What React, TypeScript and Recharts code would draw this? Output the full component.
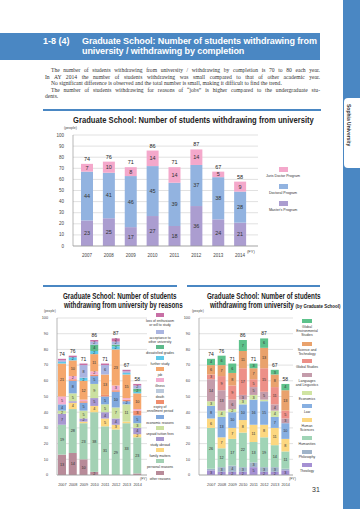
import React from "react";
import { Bar, BarChart, CartesianGrid, LabelList, XAxis, YAxis } from "recharts";

const years = ["2007", "2008", "2009", "2010", "2011", "2012", "2013", "2014"];
const yTicks = [0, 10, 20, 30, 40, 50, 60, 70, 80, 90, 100];

// top chart: by program
const masters = [23, 25, 17, 27, 18, 36, 24, 21];
const doctoral = [44, 41, 46, 45, 39, 37, 38, 28];
const jurisDoctor = [7, 10, 8, 14, 14, 14, 5, 9];

// bottom left: by reasons (stack order bottom -> top)
const otherReasons = [13, 14, 10, 2, 0, 0, 0, 1];
const personalReasons = [19, 28, 23, 38, 31, 29, 33, 23];
const familyMatters = [0, 4, 1, 4, 5, 3, 1, 2];
const studyAbroad = [7, 1, 2, 5, 4, 4, 0, 4];
const unpaidFees = [2, 5, 5, 9, 5, 7, 11, 3];
const economicReasons = [4, 8, 5, 5, 5, 10, 2, 5];
const expiryPeriod = [0, 1, 1, 1, 1, 1, 1, 3];
const death = [0, 0, 0, 0, 0, 0, 0, 0];
const illness = [5, 2, 1, 2, 0, 3, 1, 1];
const job = [21, 10, 12, 11, 13, 23, 15, 10];
const furtherStudy = [1, 2, 2, 2, 0, 2, 1, 1];
const dissatisfiedGrades = [0, 0, 0, 4, 0, 1, 0, 2];
const acceptanceOther = [1, 0, 8, 2, 6, 2, 1, 2];
const lossOfEnthusiasm = [1, 1, 1, 1, 1, 2, 1, 1];

// bottom right: by graduate school (bottom -> top)
const theology = [3, 2, 2, 2, 5, 2, 2, 3];
const philosophy = [1, 3, 4, 3, 3, 3, 3, 1];
const humanities = [26, 12, 17, 22, 13, 19, 14, 11];
const humanSciences = [6, 7, 7, 8, 11, 8, 11, 8];
const law = [8, 13, 10, 10, 16, 15, 7, 10];
const economics = [3, 4, 2, 3, 3, 1, 4, 0];
const languages = [14, 13, 6, 3, 5, 5, 4, 3];
const globalStudies = [3, 9, 9, 17, 5, 15, 11, 5];
const sciTech = [6, 7, 8, 11, 7, 13, 8, 13];
const globalEnv = [4, 6, 6, 7, 3, 6, 3, 4];

type Series = { key: string; values: number[]; color: string; label: string[] };

const programSeries: Series[] = [
  { key: "masters", values: masters, color: "#ab9dd0", label: ["Master's Program"] },
  { key: "doctoral", values: doctoral, color: "#92b3e0", label: ["Doctoral Program"] },
  { key: "juris", values: jurisDoctor, color: "#f4a8cb", label: ["Juris Doctor Program"] },
];

const reasonSeries: Series[] = [
  { key: "other", values: otherReasons, color: "#b88b99", label: ["other reasons"] },
  { key: "personal", values: personalReasons, color: "#a3d1b4", label: ["personal reasons"] },
  { key: "family", values: familyMatters, color: "#fcd780", label: ["family matters"] },
  { key: "abroad", values: studyAbroad, color: "#a898d1", label: ["study abroad"] },
  { key: "unpaid", values: unpaidFees, color: "#cbe0a0", label: ["unpaid tuition fees"] },
  { key: "economic", values: economicReasons, color: "#80a8dd", label: ["economic reasons"] },
  { key: "expiry", values: expiryPeriod, color: "#f08e6e", label: ["expiry of", "enrollment period"] },
  { key: "death", values: death, color: "#bccadc", label: ["death"] },
  { key: "illness", values: illness, color: "#f3acd0", label: ["illness"] },
  { key: "job", values: job, color: "#f5a76c", label: ["job"] },
  { key: "further", values: furtherStudy, color: "#5fc9e9", label: ["further study"] },
  { key: "grades", values: dissatisfiedGrades, color: "#5dba8b", label: ["dissatisfied grades"] },
  { key: "accept", values: acceptanceOther, color: "#aab5e1", label: ["acceptance to", "other university"] },
  { key: "loss", values: lossOfEnthusiasm, color: "#c86fa5", label: ["loss of enthusiasm", "or will to study"] },
];

const schoolSeries: Series[] = [
  { key: "theology", values: theology, color: "#a590d3", label: ["Theology"] },
  { key: "philosophy", values: philosophy, color: "#a0b4c9", label: ["Philosophy"] },
  { key: "humanities", values: humanities, color: "#a0d4b6", label: ["Humanities"] },
  { key: "humanSci", values: humanSciences, color: "#fcd780", label: ["Human", "Sciences"] },
  { key: "law", values: law, color: "#87afe1", label: ["Law"] },
  { key: "economics", values: economics, color: "#d0e4a2", label: ["Economics"] },
  { key: "languages", values: languages, color: "#c49cab", label: ["Languages", "and Linguistics"] },
  { key: "globalStudies", values: globalStudies, color: "#ed9088", label: ["Global Studies"] },
  { key: "sciTech", values: sciTech, color: "#e9a26c", label: ["Science and", "Technology"] },
  { key: "globalEnv", values: globalEnv, color: "#5dc28b", label: ["Global", "Environmental", "Studies"] },
];

const buildRows = (series: Series[]) =>
  years.map((year, i) => {
    const row: Record<string, number | string> = { year };
    let total = 0;
    series.forEach((s) => {
      row[s.key] = s.values[i];
      total += s.values[i];
    });
    row.total = total;
    return row;
  });

const box = (p: any) => {
  const vb = p.viewBox || p;
  return { x: Number(vb.x ?? p.x), y: Number(vb.y ?? p.y), w: Number(vb.width ?? p.width), h: Number(vb.height ?? p.height) };
};

const segLabel = (min: number, fs: number) => (p: any) => {
  const v = Number(p.value);
  if (!v || v < min) return null;
  const { x, y, w, h } = box(p);
  return (
    <text x={x + w / 2} y={y + h / 2} dy={fs * 0.36} textAnchor="middle" fontSize={fs} fill="#333" fontFamily="Liberation Sans, Arial">
      {v}
    </text>
  );
};

const totalLabel = (rows: any[], fs: number) => (p: any) => {
  const { x, y, w } = box(p);
  const t = rows[p.index]?.total ?? p.value;
  return (
    <text x={x + w / 2} y={y - 3} textAnchor="middle" fontSize={fs} fill="#222" fontFamily="Liberation Sans, Arial">
      {t}
    </text>
  );
};

type ChartProps = {
  series: Series[];
  left: number;
  top: number;
  width: number;
  height: number;
  margin: { top: number; right: number; left: number; bottom: number };
  yWidth: number;
  xHeight: number;
  pad: { left: number; right: number };
  barSize: number;
  tickFs: number;
  segFs: number;
  segMin: number;
  totFs: number;
};

function StackChart(c: ChartProps) {
  const rows = buildRows(c.series);
  const last = c.series.length - 1;
  return (
    <div style={{ position: "absolute", left: c.left, top: c.top }}>
      <BarChart width={c.width} height={c.height} data={rows} margin={c.margin}>
        <CartesianGrid vertical={false} stroke="#d4d4d4" strokeWidth={0.7} />
        <XAxis
          dataKey="year"
          height={c.xHeight}
          padding={c.pad}
          tickLine={false}
          axisLine={{ stroke: "#999", strokeWidth: 0.7 }}
          tick={{ fontSize: c.tickFs, fill: "#444", fontFamily: "Liberation Sans, Arial" }}
          tickMargin={2}
          interval={0}
        />
        <YAxis
          width={c.yWidth}
          domain={[0, 100]}
          ticks={yTicks}
          interval={0}
          tickLine={false}
          axisLine={{ stroke: "#999", strokeWidth: 0.7 }}
          tick={{ fontSize: c.tickFs, fill: "#444", fontFamily: "Liberation Sans, Arial" }}
          tickMargin={3}
        />
        {c.series.map((s, i) => (
          <Bar key={s.key} dataKey={s.key} stackId="a" fill={s.color} barSize={c.barSize} isAnimationActive={false}>
            <LabelList dataKey={s.key} content={segLabel(c.segMin, c.segFs)} />
            {i === last ? <LabelList dataKey="total" content={totalLabel(rows, c.totFs)} /> : null}
          </Bar>
        ))}
      </BarChart>
    </div>
  );
}

type LegendItem = { s: Series; swatchY: number; labelY: number };

function Legend({ items, cx, sw, sh, fs, lh }: { items: LegendItem[]; cx: number; sw: number; sh: number; fs: number; lh: number }) {
  return (
    <>
      {items.map(({ s, swatchY, labelY }) => (
        <React.Fragment key={s.key}>
          <div style={{ position: "absolute", left: cx - sw / 2, top: swatchY, width: sw, height: sh, background: s.color }} />
          <div
            style={{
              position: "absolute",
              left: cx - 30,
              width: 60,
              top: labelY,
              textAlign: "center",
              fontSize: fs,
              lineHeight: `${lh}px`,
              color: "#333",
              fontFamily: "Liberation Sans, Arial",
              whiteSpace: "nowrap",
            }}
          >
            {s.label.map((l) => (
              <div key={l}>{l}</div>
            ))}
          </div>
        </React.Fragment>
      ))}
    </>
  );
}

const find = (arr: Series[], key: string) => arr.find((s) => s.key === key)!;

const abs = (left: number, top: number, extra: React.CSSProperties = {}): React.CSSProperties => ({
  position: "absolute",
  left,
  top,
  ...extra,
});

// condensed bold title line
function Title({ left, top, width, fs, scale, children }: { left: number; top: number; width: number; fs: number; scale: number; children: React.ReactNode }) {
  return (
    <div style={abs(left, top, { width, textAlign: "center", whiteSpace: "nowrap", lineHeight: `${fs + 1}px` })}>
      <span
        style={{
          display: "inline-block",
          transform: `scaleX(${scale})`,
          transformOrigin: "center",
          fontFamily: "Liberation Sans, Arial",
          fontWeight: "bold",
          fontSize: fs,
          color: "#222",
        }}
      >
        {children}
      </span>
    </div>
  );
}

const blue = "#4a87c3";

const paraLines = [
  "The number of students withdrawing from university / withdrawing by completion is 70 to 80 each year.",
  "In AY 2014 the number of students withdrawing was small compared to that of other academic year.",
  "No significant difference is observed and the total number is small, making it difficult to find the trend.",
  "The number of students withdrawing for reasons of \u201cjobs\u201d is higher compared to the undergraduate stu-",
  "dents.",
];

export default function App() {
  return (
    <div style={{ position: "absolute", left: 0, top: 0, width: 360, height: 509, background: "#fff", overflow: "hidden" }}>
      {/* right side strip */}
      <div style={abs(343, 0, { width: 17, height: 509, background: blue })} />
      <div style={abs(344, 98, { width: 16, height: 70, background: "#fff", borderRadius: "4px 0 0 4px" })} />
      <div
        style={abs(346, 104, {
          writingMode: "vertical-rl",
          fontSize: 5,
          fontFamily: "Liberation Sans, Arial",
          color: "#333",
          fontWeight: "bold",
        })}
      >
        Sophia University
      </div>

      {/* header bar */}
      <div style={abs(0, 33, { width: 320, height: 27, background: blue })} />
      <div style={abs(43, 36, { color: "#fff", fontWeight: "bold", fontSize: 9, fontFamily: "Liberation Sans, Arial", lineHeight: "10px" })}>
        1-8 (4)
      </div>
      <div
        style={abs(82, 36, {
          color: "#fff",
          fontWeight: "bold",
          fontSize: 9,
          fontFamily: "Liberation Sans, Arial",
          lineHeight: "10px",
          letterSpacing: -0.1,
        })}
      >
        <div>Graduate School: Number of students withdrawing from</div>
        <div>university / withdrawing by completion</div>
      </div>

      {/* paragraph */}
      <div style={abs(45, 67, { width: 275, fontFamily: "Liberation Serif, serif", fontSize: 5.6, lineHeight: "6.5px", color: "#333" })}>
        {paraLines.map((l, i) => (
          <div
            key={i}
            style={{
              textAlign: i === 4 ? "left" : "justify",
              textAlignLast: i === 4 || i === 2 ? "left" : "justify",
              paddingLeft: i === 0 || i === 2 || i === 3 ? 6 : 0,
              whiteSpace: "nowrap",
            }}
          >
            {l}
          </div>
        ))}
      </div>

      {/* top chart */}
      <div style={abs(43, 109, { width: 278, height: 1.5, background: blue })} />
      <Title left={43} top={113} width={278} fs={9.5} scale={0.8}>
        Graduate School: Number of students withdrawing from university
      </Title>
      <div style={abs(64, 126, { fontSize: 3.5, fontFamily: "Liberation Sans, Arial", color: "#444" })}>(people)</div>
      <StackChart
        series={programSeries}
        left={43}
        top={125}
        width={280}
        height={135}
        margin={{ top: 10, right: 65, left: 0, bottom: 2 }}
        yWidth={30}
        xHeight={12}
        pad={{ left: 3, right: 7 }}
        barSize={12}
        tickFs={4.5}
        segFs={5.5}
        segMin={1}
        totFs={5.5}
      />
      <div style={abs(247, 248.5, { fontSize: 4, fontFamily: "Liberation Sans, Arial", color: "#444" })}>(FY)</div>
      <Legend
        cx={283}
        sw={9}
        sh={5}
        fs={3.6}
        lh={4}
        items={[
          { s: find(programSeries, "juris"), swatchY: 167, labelY: 174 },
          { s: find(programSeries, "doctoral"), swatchY: 184, labelY: 191 },
          { s: find(programSeries, "masters"), swatchY: 201, labelY: 207.5 },
        ]}
      />

      {/* bottom left chart */}
      <div style={abs(43, 285, { width: 134, height: 1.5, background: blue })} />
      <Title left={43} top={288.5} width={134} fs={8.5} scale={0.74}>
        Graduate School: Number of students
      </Title>
      <Title left={43} top={298} width={134} fs={8.5} scale={0.74}>
        withdrawing from university by reasons
      </Title>
      <div style={abs(44, 308.5, { fontSize: 3.2, fontFamily: "Liberation Sans, Arial", color: "#444" })}>(people)</div>
      <StackChart
        series={reasonSeries}
        left={30}
        top={310}
        width={130}
        height={180}
        margin={{ top: 8, right: 13, left: 0, bottom: 5 }}
        yWidth={27}
        xHeight={10}
        pad={{ left: 0, right: 4 }}
        barSize={8}
        tickFs={3.8}
        segFs={3.8}
        segMin={2}
        totFs={5}
      />
      <div style={abs(140, 476.5, { fontSize: 3.5, fontFamily: "Liberation Sans, Arial", color: "#444" })}>(FY)</div>
      <Legend
        cx={160}
        sw={8}
        sh={4}
        fs={3.4}
        lh={4.2}
        items={[
          { s: find(reasonSeries, "loss"), swatchY: 313, labelY: 318.5 },
          { s: find(reasonSeries, "accept"), swatchY: 330, labelY: 335.5 },
          { s: find(reasonSeries, "grades"), swatchY: 345, labelY: 351 },
          { s: find(reasonSeries, "further"), swatchY: 355.5, labelY: 361.5 },
          { s: find(reasonSeries, "job"), swatchY: 366.5, labelY: 372.5 },
          { s: find(reasonSeries, "illness"), swatchY: 377.5, labelY: 383.5 },
          { s: find(reasonSeries, "death"), swatchY: 388.5, labelY: 394.5 },
          { s: find(reasonSeries, "expiry"), swatchY: 399.5, labelY: 405 },
          { s: find(reasonSeries, "economic"), swatchY: 415, labelY: 421 },
          { s: find(reasonSeries, "unpaid"), swatchY: 426, labelY: 431.5 },
          { s: find(reasonSeries, "abroad"), swatchY: 437, labelY: 442.5 },
          { s: find(reasonSeries, "family"), swatchY: 448, labelY: 454 },
          { s: find(reasonSeries, "personal"), swatchY: 459, labelY: 465 },
          { s: find(reasonSeries, "other"), swatchY: 470.5, labelY: 476.5 },
        ]}
      />

      {/* bottom right chart */}
      <div style={abs(187, 285, { width: 133, height: 1.5, background: blue })} />
      <Title left={187} top={288.5} width={133} fs={8.5} scale={0.74}>
        Graduate School: Number of students
      </Title>
      <Title left={187} top={298} width={133} fs={8.5} scale={0.74}>
        withdrawing from university <span style={{ fontSize: 6 }}>(by Graduate School)</span>
      </Title>
      <div style={abs(192, 308.5, { fontSize: 3.2, fontFamily: "Liberation Sans, Arial", color: "#444" })}>(people)</div>
      <StackChart
        series={schoolSeries}
        left={172}
        top={310}
        width={130}
        height={180}
        margin={{ top: 8, right: 9, left: 0, bottom: 5 }}
        yWidth={27}
        xHeight={10}
        pad={{ left: 7, right: 2 }}
        barSize={8}
        tickFs={3.8}
        segFs={3.8}
        segMin={2}
        totFs={5}
      />
      <div style={abs(289, 476.5, { fontSize: 3.5, fontFamily: "Liberation Sans, Arial", color: "#444" })}>(FY)</div>
      <Legend
        cx={307}
        sw={10}
        sh={4}
        fs={3.4}
        lh={4}
        items={[
          { s: find(schoolSeries, "globalEnv"), swatchY: 319, labelY: 325 },
          { s: find(schoolSeries, "sciTech"), swatchY: 342, labelY: 348 },
          { s: find(schoolSeries, "globalStudies"), swatchY: 359, labelY: 365 },
          { s: find(schoolSeries, "languages"), swatchY: 373, labelY: 378.5 },
          { s: find(schoolSeries, "economics"), swatchY: 391, labelY: 397 },
          { s: find(schoolSeries, "law"), swatchY: 404, labelY: 410 },
          { s: find(schoolSeries, "humanSci"), swatchY: 418, labelY: 424 },
          { s: find(schoolSeries, "humanities"), swatchY: 436, labelY: 442 },
          { s: find(schoolSeries, "philosophy"), swatchY: 449.5, labelY: 455 },
          { s: find(schoolSeries, "theology"), swatchY: 463, labelY: 469 },
        ]}
      />

      <div style={abs(312, 486, { fontSize: 7, fontFamily: "Liberation Sans, Arial", color: "#333" })}>31</div>
    </div>
  );
}
